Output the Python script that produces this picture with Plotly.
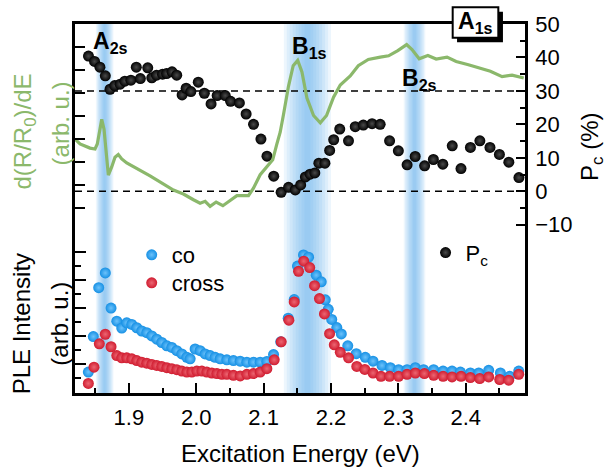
import plotly.graph_objects as go

FONT = "Arial, Liberation Sans, sans-serif"
GREEN = "#8bb86b"

# ---------------- data ----------------
energy_pc = [1.840, 1.849, 1.857, 1.865, 1.872, 1.879, 1.887, 1.894, 1.903, 1.911,
             1.917, 1.928, 1.934, 1.941, 1.950, 1.956, 1.964, 1.971, 1.979, 1.985,
             1.992, 2.003, 2.012, 2.022, 2.031, 2.043, 2.051, 2.064, 2.074, 2.085,
             2.096, 2.105, 2.115, 2.126, 2.137, 2.147, 2.155, 2.162, 2.169, 2.176,
             2.182, 2.191, 2.198, 2.204, 2.213, 2.226, 2.236, 2.248, 2.261, 2.273,
             2.287, 2.300, 2.313, 2.325, 2.339, 2.352, 2.366, 2.380, 2.393, 2.407,
             2.421, 2.436, 2.450, 2.464, 2.479]
pc = [40.4, 38.8, 37.1, 34.5, 30.5, 31.6, 32.0, 32.9, 33.2, 37.1,
      33.7, 36.9, 33.9, 34.7, 35.0, 35.2, 35.7, 34.7, 28.8, 30.8,
      29.8, 32.6, 29.3, 26.1, 28.6, 28.6, 26.9, 26.4, 23.1, 20.0,
      15.6, 10.5, 4.5, -0.3, 1.2, 0.4, 1.9, 4.3, 5.1, 5.5,
      8.4, 8.4, 12.2, 15.4, 18.6, 15.1, 19.3, 19.8, 20.2, 20.0,
      15.1, 12.1, 7.9, 10.4, 7.6, 9.5, 8.1, 13.6, 6.8, 13.1,
      15.1, 13.1, 11.0, 8.7, 4.1]

energy_dr = [1.820, 1.8274, 1.8423, 1.8497, 1.8531, 1.8571, 1.8597, 1.8631, 1.8661, 1.8695,
             1.8745, 1.8794, 1.8843, 1.8894, 1.8968, 1.9314, 1.9661, 1.9809, 1.9958, 2.0057,
             2.0132, 2.0206, 2.0295, 2.0395, 2.0503, 2.0603, 2.0775, 2.0849, 2.0949, 2.1048,
             2.1135, 2.1197, 2.1246, 2.1295, 2.1369, 2.1439, 2.1506, 2.1569, 2.1643, 2.1741,
             2.1841, 2.1934, 2.2038, 2.2138, 2.2286, 2.2405, 2.2554, 2.2732, 2.2855, 2.2992,
             2.3123, 2.3203, 2.3309, 2.3438, 2.3561, 2.3723, 2.3858, 2.4040, 2.4218, 2.4366,
             2.4540, 2.4689, 2.4861]
dr = [3.00, 2.79, 2.61, 2.57, 2.79, 3.57, 3.86, 3.43, 2.36, 1.43,
      1.79, 2.21, 2.33, 2.14, 1.96, 1.40, 0.78, 0.61, 0.36, 0.21,
      0.29, 0.07, 0.26, 0.10, 0.33, 0.54, 0.54, 0.86, 1.45, 1.82,
      2.10, 2.79, 3.30, 4.07, 5.30, 6.20, 6.43, 5.93, 4.79, 4.03,
      3.71, 4.03, 4.83, 5.36, 5.75, 6.20, 6.47, 6.57, 6.63, 6.86,
      7.12, 6.90, 6.50, 6.64, 6.49, 6.57, 6.38, 6.24, 6.07, 5.96,
      5.72, 5.79, 5.66]

energy_co = [1.8398, 1.8472, 1.8552, 1.8650, 1.8735, 1.8820, 1.8894, 1.8968, 1.9043, 1.9117,
             1.9191, 1.9265, 1.9340, 1.9414, 1.9488, 1.9563, 1.9637, 1.9711, 1.9786, 1.9860,
             1.9909, 1.9983, 2.0057, 2.0132, 2.0206, 2.0280, 2.0355, 2.0454, 2.0552, 2.0652,
             2.0751, 2.0849, 2.0949, 2.1048, 2.1147, 2.1254, 2.1365, 2.1454, 2.1503, 2.1592,
             2.1667, 2.1781, 2.1855, 2.1915, 2.1959, 2.2011, 2.2086, 2.2153, 2.2249, 2.2375,
             2.2509, 2.2624, 2.2757, 2.2881, 2.3004, 2.3129, 2.3252, 2.3375, 2.3524, 2.3664,
             2.3797, 2.3921, 2.4069, 2.4193, 2.4341, 2.4515, 2.4653, 2.4787]
ple_co = [0.706, 1.977, 3.731, 4.260, 3.000, 2.531, 2.284, 2.471, 2.414, 2.294,
          2.178, 2.118, 2.001, 1.885, 1.765, 1.648, 1.588, 1.472, 1.355, 1.235,
          1.179, 1.532, 1.472, 1.355, 1.295, 1.235, 1.179, 1.144, 1.119, 1.094,
          1.059, 1.059, 1.059, 1.084, 1.331, 1.790, 2.637, 3.307, 4.508, 4.906,
          4.825, 4.179, 3.943, 3.297, 2.954, 2.591, 2.301, 2.072, 1.648, 1.366,
          1.235, 1.094, 0.942, 0.861, 0.791, 0.791, 0.861, 0.791, 0.791, 0.741,
          0.741, 0.706, 0.671, 0.671, 0.766, 0.671, 0.554, 0.741]

energy_cross = [1.8398, 1.8482, 1.8561, 1.8650, 1.8735, 1.8820, 1.8894, 1.8968, 1.9043, 1.9117,
                1.9191, 1.9265, 1.9340, 1.9414, 1.9488, 1.9563, 1.9637, 1.9711, 1.9786, 1.9860,
                1.9934, 2.0008, 2.0083, 2.0157, 2.0231, 2.0306, 2.0380, 2.0454, 2.0552, 2.0652,
                2.0751, 2.0849, 2.0949, 2.1048, 2.1157, 2.1261, 2.1375, 2.1454, 2.1518, 2.1595,
                2.1684, 2.1756, 2.1829, 2.1903, 2.1979, 2.2049, 2.2138, 2.2261, 2.2383, 2.2502,
                2.2624, 2.2742, 2.2870, 2.3004, 2.3129, 2.3252, 2.3386, 2.3524, 2.3664, 2.3797,
                2.3931, 2.4069, 2.4208, 2.4341, 2.4505, 2.4638, 2.4787]
ple_cross = [0.297, 0.882, 1.719, 2.061, 1.613, 1.295, 1.214, 1.214, 1.179, 1.119,
             1.059, 1.024, 0.978, 0.942, 0.907, 0.861, 0.826, 0.791, 0.741, 0.706,
             0.706, 0.741, 0.741, 0.706, 0.671, 0.649, 0.625, 0.625, 0.589, 0.565,
             0.625, 0.649, 0.706, 0.826, 1.144, 1.790, 2.566, 3.219, 4.320, 4.684,
             4.455, 3.802, 3.343, 2.789, 2.083, 1.684, 1.412, 1.214, 0.907, 0.801,
             0.671, 0.554, 0.554, 0.554, 0.625, 0.671, 0.649, 0.589, 0.554, 0.529,
             0.554, 0.508, 0.473, 0.529, 0.438, 0.413, 0.625]

x_ticks = [1.9, 2.0, 2.1, 2.2, 2.3, 2.4]
x_minor = [1.85, 1.95, 2.05, 2.15, 2.25, 2.35, 2.45]
pc_ticks = [-10, 0, 10, 20, 30, 40, 50]
pc_minor = [-5, 5, 15, 25, 35, 45]
pc_dashes = [30, 0]
dr_ticks = [0, 1, 2, 3, 4, 5, 6, 7]
ple_ticks = [1, 2, 3, 4, 5]
ple_minor = [0.5, 1.5, 2.5, 3.5, 4.5]

# exciton resonances marked by shaded bands
band_centres = [1.864, 2.165, 2.324]
band_halfwidths = [0.013, 0.035, 0.016]

# ---------------- figure ----------------
fig = go.Figure()

fig.add_trace(go.Scatter(x=energy_dr, y=dr, yaxis="y2", mode="lines",
                         line=dict(color=GREEN, width=3.2), showlegend=False,
                         hoverinfo="skip"))
fig.add_trace(go.Scatter(x=energy_co, y=ple_co, yaxis="y3", mode="markers", name="co",
                         legend="legend",
                         marker=dict(size=11, color="#1690e4", line=dict(width=0),
                                     gradient=dict(type="radial", color="#6cc2fb"))))
fig.add_trace(go.Scatter(x=energy_cross, y=ple_cross, yaxis="y3", mode="markers",
                         name="cross", legend="legend2",
                         marker=dict(size=11, color="#d01c30", line=dict(width=0),
                                     gradient=dict(type="radial", color="#ec6672"))))
fig.add_trace(go.Scatter(x=energy_pc, y=pc, yaxis="y", mode="markers",
                         name="P<sub>c</sub>", legend="legend3",
                         marker=dict(size=11, color="#000000", line=dict(width=0),
                                     gradient=dict(type="radial", color="#4a4a4a"))))

shapes = []
N = 8
for c, hw in zip(band_centres, band_halfwidths):
    for k in range(1, N + 1):
        w = hw * k / N
        shapes.append(dict(type="rect", xref="x", yref="paper", x0=c - w, x1=c + w,
                           y0=0, y1=1, fillcolor="rgb(90,175,240)", opacity=0.11,
                           line=dict(width=0), layer="below"))
for v in pc_dashes:
    shapes.append(dict(type="line", xref="paper", yref="y", x0=0, x1=1, y0=v, y1=v,
                       line=dict(color="black", width=1.5, dash="7px,5px"),
                       layer="below"))
# A1s box with shadow
shapes.append(dict(type="rect", xref="paper", yref="paper", x0=0.849, x1=0.951,
                   y0=0.9507, y1=1.0333, fillcolor="black", line=dict(width=0),
                   layer="above"))
shapes.append(dict(type="rect", xref="paper", yref="paper", x0=0.8393, x1=0.9407,
                   y0=0.9627, y1=1.0453, fillcolor="white",
                   line=dict(color="black", width=2), layer="above"))


def ann(text, x, y, size=22, color="black", angle=0):
    return dict(text=text, x=x, y=y, xref="paper", yref="paper", xanchor="center",
                yanchor="middle", textangle=angle, showarrow=False,
                font=dict(size=size, color=color, family=FONT))


annotations = [
    ann("<b>A<sub>2s</sub></b>", 0.078, 0.949, 23),
    ann("<b>B<sub>1s</sub></b>", 0.522, 0.936, 23),
    ann("<b>B<sub>2s</sub></b>", 0.766, 0.850, 23),
    ann("<b>A<sub>1s</sub></b>", 0.890, 1.004, 23),
    ann("Excitation Energy (eV)", 0.5, -0.165, 24),
    ann("P<sub>c</sub> (%)", 1.149, 0.667, 24, angle=-90),
    ann("d(R/R<sub>0</sub>)/dE", -0.113, 0.709, 24, GREEN, -90),
    ann("(arb. u.)", -0.033, 0.731, 24, GREEN, -90),
    ann("PLE Intensity", -0.117, 0.187, 24, angle=-90),
    ann("(arb. u.)", -0.034, 0.187, 24, angle=-90),
]

leg_common = dict(bgcolor="rgba(0,0,0,0)", borderwidth=0, xanchor="left", yanchor="middle",
                  font=dict(size=22, color="black", family=FONT), itemsizing="trace")

fig.update_layout(
    width=606, height=475,
    margin=dict(l=75, r=81, t=18, b=82),
    paper_bgcolor="white", plot_bgcolor="white",
    font=dict(family=FONT, color="black"),
    showlegend=True,
    legend=dict(x=0.126, y=0.374, **leg_common),
    legend2=dict(x=0.126, y=0.298, **leg_common),
    legend3=dict(x=0.779, y=0.380, **leg_common),
    xaxis=dict(range=[1.82, 2.488], showgrid=False, zeroline=False,
               showline=True, linecolor="black", linewidth=2.5, mirror=True,
               ticks="inside", ticklen=10, tickwidth=2, tickcolor="black",
               tickmode="array", tickvals=x_ticks, ticktext=[f"{v:.1f}" for v in x_ticks],
               minor=dict(tickmode="array", tickvals=x_minor, ticks="inside",
                          ticklen=5, tickwidth=2, tickcolor="black"),
               tickfont=dict(size=22, family=FONT, color="black"),
               ticklabelstandoff=3),
    yaxis=dict(range=[-60.29, 50], side="right", showgrid=False, zeroline=False,
               showline=True, linecolor="black", linewidth=2.5,
               ticks="inside", ticklen=9, tickwidth=2, tickcolor="black",
               tickmode="array", tickvals=pc_ticks,
               minor=dict(tickmode="array", tickvals=pc_minor, ticks="inside",
                          ticklen=5, tickwidth=2, tickcolor="black"),
               tickfont=dict(size=22, family=FONT, color="black"),
               ticklabelstandoff=3),
    yaxis2=dict(range=[-8.058, 8.015], overlaying="y", side="left", showgrid=False,
                zeroline=False, showline=True, linecolor="black", linewidth=2.5,
                ticks="inside", ticklen=10, tickwidth=2, tickcolor="black",
                tickmode="array", tickvals=dr_ticks, showticklabels=False),
    yaxis3=dict(range=[-0.046, 13.19], overlaying="y", side="left", showgrid=False,
                zeroline=False, showline=False,
                ticks="inside", ticklen=11, tickwidth=2, tickcolor="black",
                tickmode="array", tickvals=ple_ticks, showticklabels=False,
                minor=dict(tickmode="array", tickvals=ple_minor, ticks="inside",
                           ticklen=6, tickwidth=2, tickcolor="black")),
    shapes=shapes,
    annotations=annotations,
)

fig.write_html("out.html")
